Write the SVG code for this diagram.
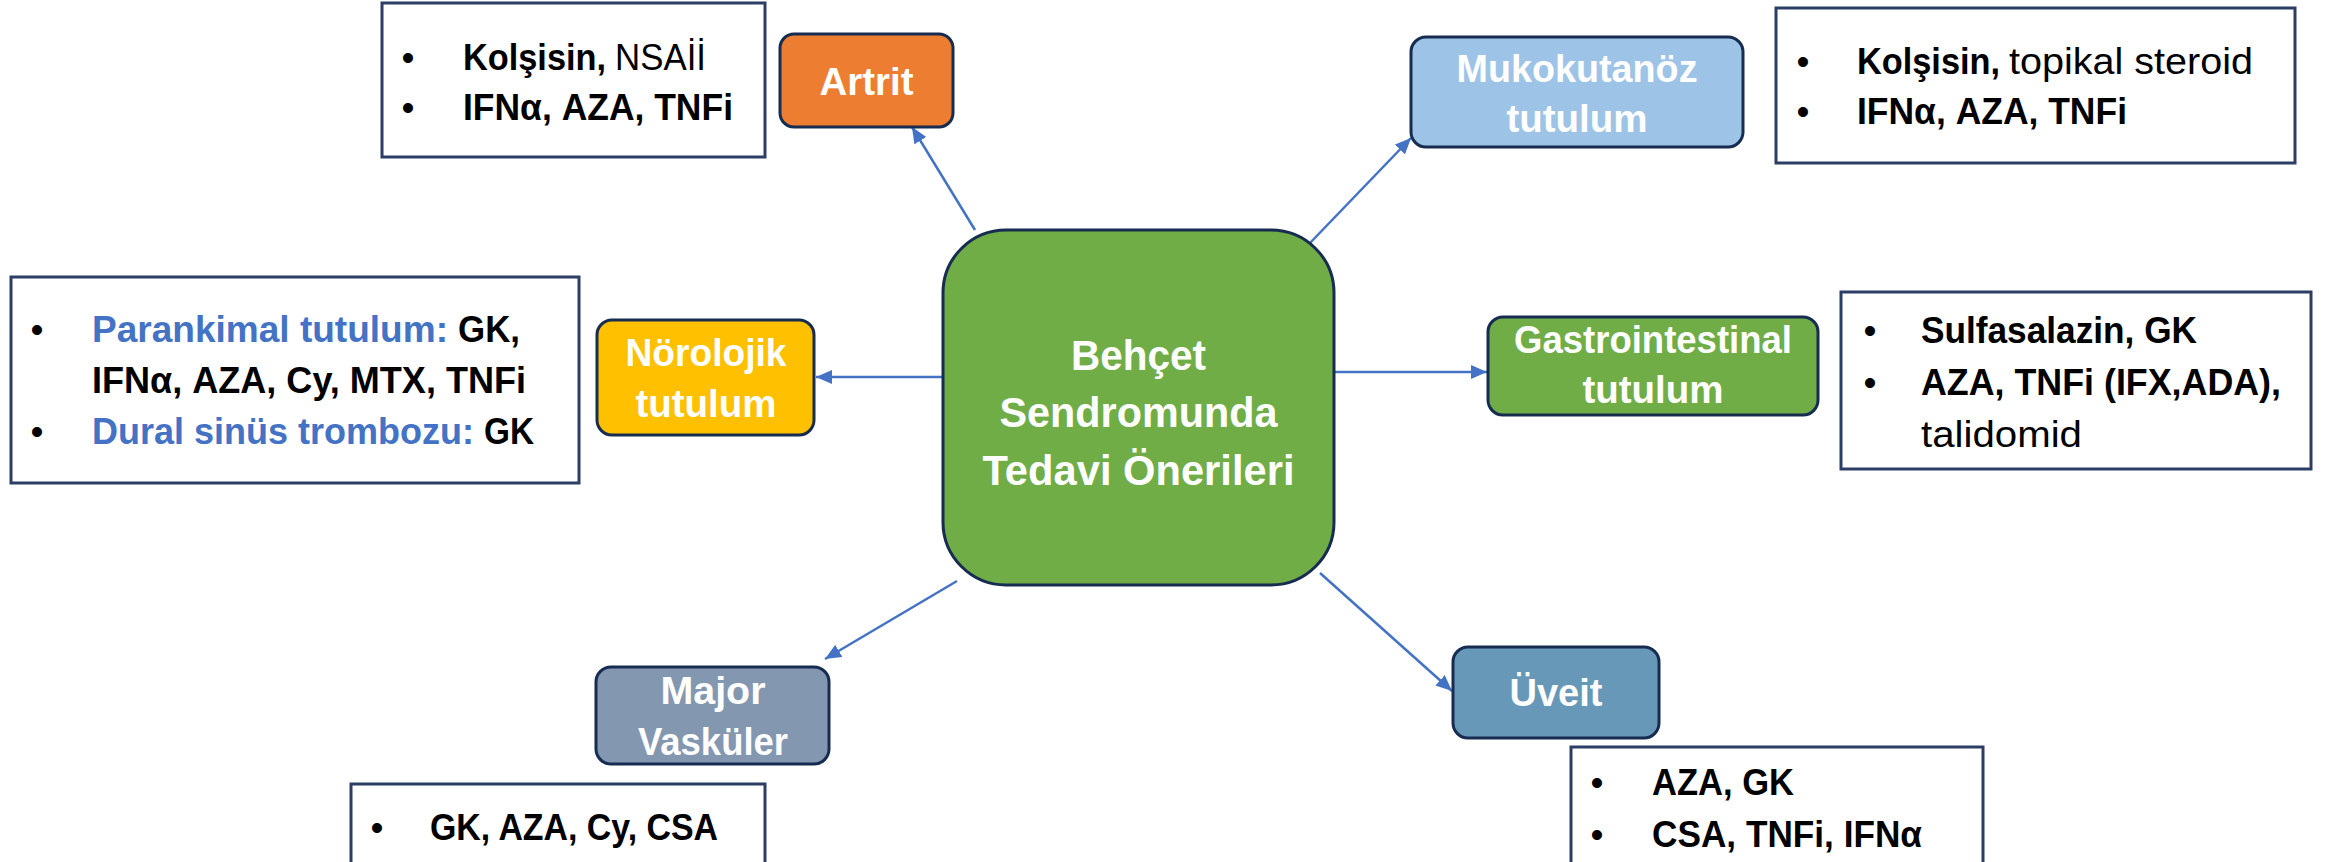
<svg xmlns="http://www.w3.org/2000/svg" width="2328" height="862" viewBox="0 0 2328 862">
  <defs>
    <style>
      .node rect { stroke: #172C51; stroke-width: 3; }
      .box { fill: #FFFFFF; stroke: #2C3E63; stroke-width: 3; }
      .nt { font-family: "Liberation Sans", Arial, sans-serif; font-weight: bold; font-size: 38px; fill: #FFFFFF; }
      .ct { font-family: "Liberation Sans", Arial, sans-serif; font-weight: bold; font-size: 42px; fill: #FFFFFF; }
      .bt { font-family: "Liberation Sans", Arial, sans-serif; font-weight: bold; font-size: 37px; fill: #000000; }
      .reg { font-weight: normal; }
      .blue { fill: #4472C4; }
      .bul { font-family: "Liberation Sans", Arial, sans-serif; font-size: 37px; fill: #000000; text-anchor: middle; }
      .conn line { stroke: #4472C4; stroke-width: 2.5; fill: none; marker-end: url(#arr); }
    </style>
    <marker id="arr" viewBox="0 0 16 14" refX="16" refY="7" markerWidth="16" markerHeight="14" markerUnits="userSpaceOnUse" orient="auto">
      <path d="M0,0 L16,7 L0,14 Z" fill="#4472C4"/>
    </marker>
  </defs>
  <rect x="0" y="0" width="2328" height="862" fill="#FFFFFF"/>

  <g id="connectors" class="conn">
    <line x1="975" y1="230" x2="912" y2="127"/>
    <line x1="1310" y1="243" x2="1411" y2="138"/>
    <line x1="943" y1="377" x2="816" y2="377"/>
    <line x1="1334" y1="372" x2="1487" y2="372"/>
    <line x1="957" y1="581" x2="825" y2="659"/>
    <line x1="1320" y1="573" x2="1452" y2="691"/>
  </g>

  <g id="center" class="node">
    <rect x="943" y="230" width="391" height="355" rx="63" fill="#70AD47"/>
    <text class="ct" x="1071" y="370" textLength="135" lengthAdjust="spacingAndGlyphs">Behçet</text>
    <text class="ct" x="999.5" y="427" textLength="278" lengthAdjust="spacingAndGlyphs">Sendromunda</text>
    <text class="ct" x="982.5" y="485" textLength="312" lengthAdjust="spacingAndGlyphs">Tedavi Önerileri</text>
  </g>

  <g id="artrit" class="node">
    <rect x="780" y="34" width="173" height="93" rx="14" fill="#ED7D31"/>
    <text class="nt" x="819.5" y="95" textLength="94" lengthAdjust="spacingAndGlyphs">Artrit</text>
  </g>
  <g id="artrit-tedavi">
    <rect class="box" x="382" y="3" width="383" height="154"/>
    <text class="bul" x="408" y="70">•</text>
    <text class="bul" x="408" y="120">•</text>
    <text class="bt" x="463" y="70" textLength="143" lengthAdjust="spacingAndGlyphs">Kolşisin,</text>
    <text class="bt reg" x="615" y="70" textLength="91" lengthAdjust="spacingAndGlyphs">NSAİİ</text>
    <text class="bt" x="463" y="120" textLength="270" lengthAdjust="spacingAndGlyphs">IFNα, AZA, TNFi</text>
  </g>

  <g id="mukokutanoz" class="node">
    <rect x="1411" y="37" width="332" height="110" rx="15" fill="#9DC3E6"/>
    <text class="nt" x="1456.5" y="82" textLength="241" lengthAdjust="spacingAndGlyphs">Mukokutanöz</text>
    <text class="nt" x="1506.5" y="132" textLength="141" lengthAdjust="spacingAndGlyphs">tutulum</text>
  </g>
  <g id="mukokutanoz-tedavi">
    <rect class="box" x="1776" y="8" width="519" height="155"/>
    <text class="bul" x="1803" y="74">•</text>
    <text class="bul" x="1803" y="124">•</text>
    <text class="bt" x="1857" y="74" textLength="143" lengthAdjust="spacingAndGlyphs">Kolşisin,</text>
    <text class="bt reg" x="2009" y="74" textLength="244" lengthAdjust="spacingAndGlyphs">topikal steroid</text>
    <text class="bt" x="1857" y="124" textLength="270" lengthAdjust="spacingAndGlyphs">IFNα, AZA, TNFi</text>
  </g>

  <g id="norolojik" class="node">
    <rect x="597" y="320" width="217" height="115" rx="15" fill="#FFC000"/>
    <text class="nt" x="625.5" y="366" textLength="161" lengthAdjust="spacingAndGlyphs">Nörolojik</text>
    <text class="nt" x="635.5" y="417" textLength="141" lengthAdjust="spacingAndGlyphs">tutulum</text>
  </g>
  <g id="norolojik-tedavi">
    <rect class="box" x="11" y="277" width="568" height="206"/>
    <text class="bul blue" x="37" y="342">•</text>
    <text class="bul blue" x="37" y="444">•</text>
    <text class="bt blue" x="92" y="342" textLength="356" lengthAdjust="spacingAndGlyphs">Parankimal tutulum:</text>
    <text class="bt" x="458" y="342" textLength="62" lengthAdjust="spacingAndGlyphs">GK,</text>
    <text class="bt" x="92" y="393" textLength="434" lengthAdjust="spacingAndGlyphs">IFNα, AZA, Cy, MTX, TNFi</text>
    <text class="bt blue" x="92" y="444" textLength="382" lengthAdjust="spacingAndGlyphs">Dural sinüs trombozu:</text>
    <text class="bt" x="484" y="444" textLength="50" lengthAdjust="spacingAndGlyphs">GK</text>
  </g>

  <g id="gastrointestinal" class="node">
    <rect x="1488" y="317" width="330" height="98" rx="15" fill="#70AD47"/>
    <text class="nt" x="1514" y="353" textLength="278" lengthAdjust="spacingAndGlyphs">Gastrointestinal</text>
    <text class="nt" x="1582.5" y="403" textLength="141" lengthAdjust="spacingAndGlyphs">tutulum</text>
  </g>
  <g id="gastrointestinal-tedavi">
    <rect class="box" x="1841" y="292" width="470" height="177"/>
    <text class="bul" x="1870" y="343">•</text>
    <text class="bul" x="1870" y="395">•</text>
    <text class="bt" x="1921" y="343" textLength="276" lengthAdjust="spacingAndGlyphs">Sulfasalazin, GK</text>
    <text class="bt" x="1921" y="395" textLength="360" lengthAdjust="spacingAndGlyphs">AZA, TNFi (IFX,ADA),</text>
    <text class="bt reg" x="1921" y="447" textLength="161" lengthAdjust="spacingAndGlyphs">talidomid</text>
  </g>

  <g id="major-vaskuler" class="node">
    <rect x="596" y="667" width="233" height="97" rx="15" fill="#8497B0"/>
    <text class="nt" x="660.5" y="704" textLength="105" lengthAdjust="spacingAndGlyphs">Major</text>
    <text class="nt" x="638" y="755" textLength="150" lengthAdjust="spacingAndGlyphs">Vasküler</text>
  </g>
  <g id="major-vaskuler-tedavi">
    <rect class="box" x="351" y="784" width="414" height="110"/>
    <text class="bul" x="377" y="840">•</text>
    <text class="bt" x="430" y="840" textLength="288" lengthAdjust="spacingAndGlyphs">GK, AZA, Cy, CSA</text>
  </g>

  <g id="uveit" class="node">
    <rect x="1453" y="647" width="206" height="91" rx="15" fill="#6898B8"/>
    <text class="nt" x="1509.5" y="706" textLength="93" lengthAdjust="spacingAndGlyphs">Üveit</text>
  </g>
  <g id="uveit-tedavi">
    <rect class="box" x="1571" y="747" width="412" height="145"/>
    <text class="bul" x="1597" y="795">•</text>
    <text class="bul" x="1597" y="847">•</text>
    <text class="bt" x="1652" y="795" textLength="142" lengthAdjust="spacingAndGlyphs">AZA, GK</text>
    <text class="bt" x="1652" y="847" textLength="270" lengthAdjust="spacingAndGlyphs">CSA, TNFi, IFNα</text>
  </g>
</svg>
